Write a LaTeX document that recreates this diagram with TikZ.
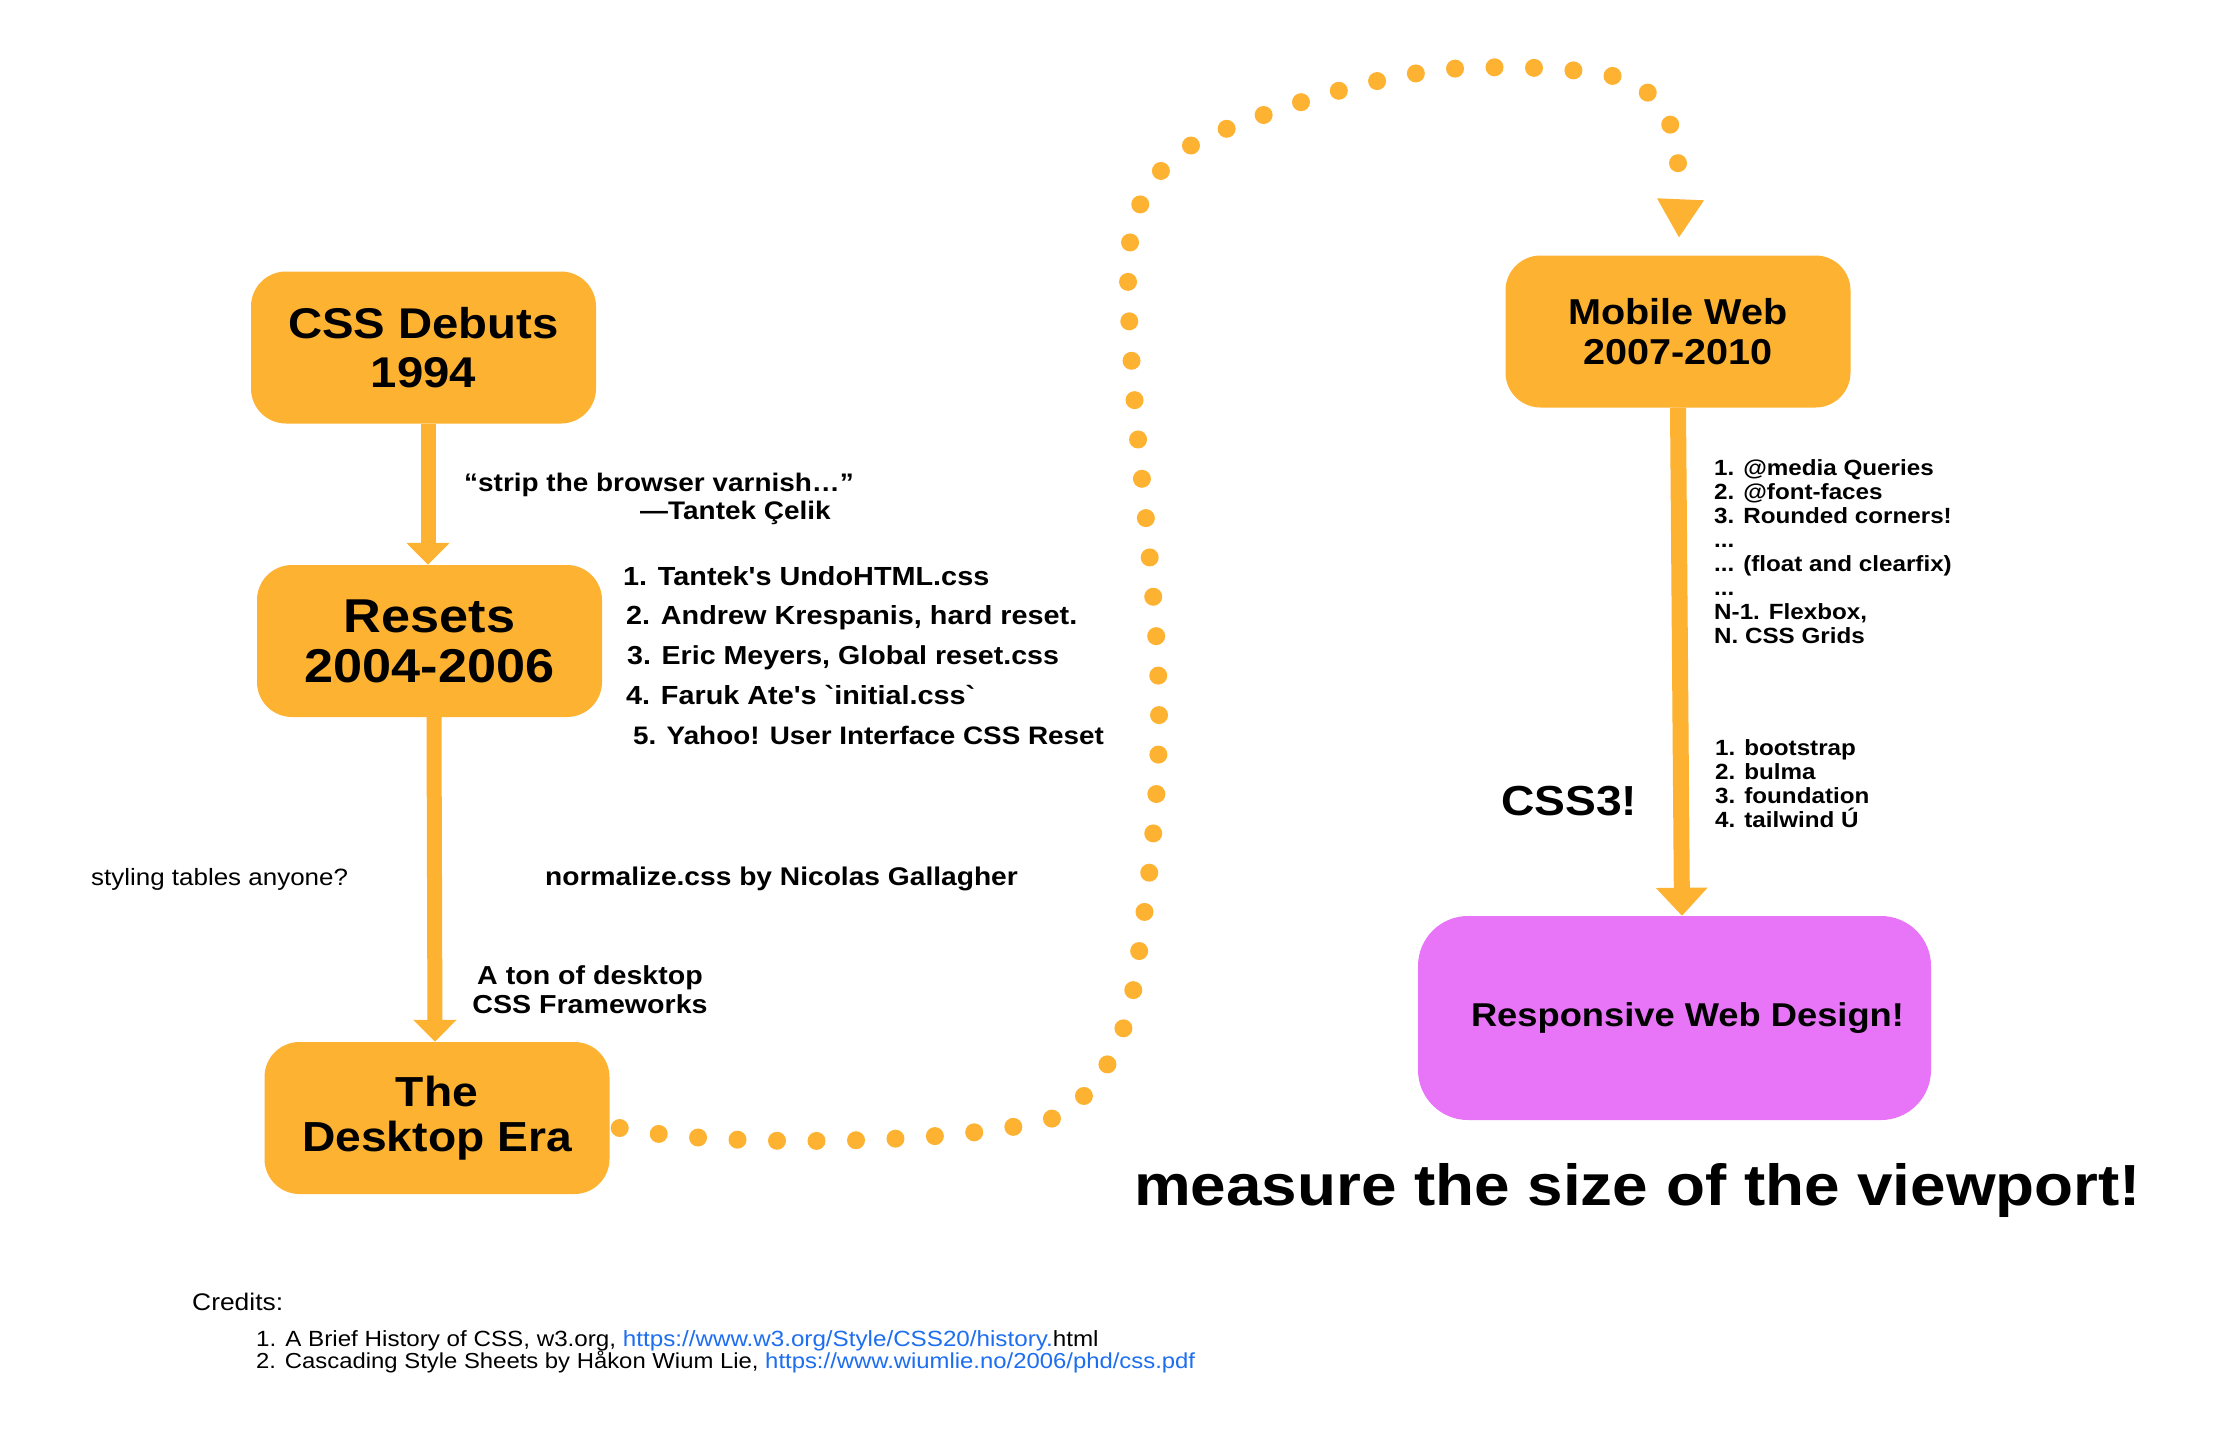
\documentclass[tikz,border=0pt]{standalone}
\usepackage{fontspec}
\setmainfont{Liberation Sans}[FakeStretch=1.1, Ligatures=TeXOff]
\usetikzlibrary{arrows.meta}
\definecolor{cssorange}{RGB}{253,178,49}
\definecolor{rwdpink}{RGB}{232,116,248}
\definecolor{linkblue}{RGB}{30,110,240}
\newcommand\setfs[2]{\fontsize{#1}{#2}\selectfont}
\begin{document}
\begin{tikzpicture}[x=1pt,y=-1pt,
  box/.style={fill=cssorange, rounded corners=35pt, minimum width=345pt, minimum height=152pt, align=center, inner sep=0pt},
  flow/.style={draw=cssorange, line width=15pt, -{Triangle[length=22pt,width=42pt]}},
  dotline/.style={draw=cssorange, line width=18pt, line cap=round, dash pattern=on 0pt off 39.5pt},
  txt/.style={anchor=base west, inner sep=0pt, font=\bfseries\setfs{26}{26}},
  ctxt/.style={anchor=base, inner sep=0pt, font=\bfseries\setfs{26}{26}},
  mlist/.style={anchor=base west, inner sep=0pt, font=\bfseries\setfs{22}{22}},
  cred/.style={anchor=base west, inner sep=0pt, font=\setfs{22}{22}}
]
\fill[white] (0,0) rectangle (2230,1440);
\useasboundingbox (0,0) rectangle (2230,1440);

% boxes
\node[box, font=\bfseries\setfs{43}{49}] (css) at (423.5,347.5) {\raisebox{-6pt}{CSS Debuts}\\\raisebox{-6pt}{1994}};
\node[box, font=\bfseries\setfs{47.5}{50}] (res) at (429.5,641) {Resets\\2004-2006};
\node[box, font=\bfseries\setfs{42}{45}] (desk) at (437,1118) {The\\Desktop Era};
\node[box, font=\bfseries\setfs{36}{40}] (mob) at (1678,331.5) {Mobile Web\\2007-2010};
\node[box, fill=rwdpink, rounded corners=50pt, minimum width=513pt, minimum height=204pt, font=\bfseries\setfs{33}{33}] (rwd) at (1674.5,1018) {\hspace*{26pt}Responsive Web Design!};

% solid arrows
\draw[flow] ([xshift=4.5pt]css.south) -- ([xshift=-1.5pt]res.north);
\draw[flow] ([xshift=4.5pt]res.south) -- ([xshift=-2pt]desk.north);
\draw[flow, line width=16pt, -{Triangle[length=28pt,width=50pt]}] (mob.south) -- ([xshift=7.5pt]rwd.north);

% dotted connector
\coordinate (dotend) at ([yshift=79pt]mob.north);
\draw[dotline] ([xshift=10pt,yshift=-10pt]desk.east)
  .. controls (720,1148) and (960,1145) .. (1054,1118)
  .. controls (1100,1095) and (1125,1040) .. (1134,986)
  .. controls (1147,900) and (1160,800) .. (1159,707)
  .. controls (1158,580) and (1130,420) .. (1128,280)
  .. controls (1126,200) and (1160,150) .. (1232,127)
  .. controls (1300,100) and (1390,72) .. (1464,68)
  .. controls (1520,66) and (1580,68) .. (1622,78)
  .. controls (1662,92) and (1680,130) .. (dotend);
\fill[cssorange] ([xshift=-21pt,yshift=57pt]mob.north) -- ([xshift=26pt,yshift=55pt]mob.north) -- ([xshift=1pt,yshift=18pt]mob.north) -- cycle;

% quote
\node[txt, font=\bfseries\setfs{25.4}{28}] (q1) at (464,491) {“strip the browser varnish…”};
\node[txt, font=\bfseries\setfs{25.4}{28}] (q2) at (640,519) {—Tantek Çelik};

% resets list
\node[txt, font=\bfseries\setfs{26.2}{26}] (r1) at (623,585) {1. Tantek's UndoHTML.css};
\node[txt, font=\bfseries\setfs{26.2}{26}] (r2) at (626,624) {2. Andrew Krespanis, hard reset.};
\node[txt] (r3) at (627,664) {3. Eric Meyers, Global reset.css};
\node[txt, font=\bfseries\setfs{26.2}{26}] (r4) at (626,704) {4. Faruk Ate's `initial.css`};
\node[txt, font=\bfseries\setfs{25.3}{26}] (r5) at (633,744) {5. Yahoo! User Interface CSS Reset};

% middle texts
\node[txt, font=\setfs{23.6}{24}] (tables) at (91,885) {styling tables anyone?};
\node[txt, font=\bfseries\setfs{25.6}{26}] (norm) at (545,885) {normalize.css by Nicolas Gallagher};
\node[ctxt] (ton1) at (590,984) {A ton of desktop};
\node[ctxt] (ton2) at (590,1013) {CSS Frameworks};

% mobile list
\node[mlist] (m1) at (1714,475) {1. @media Queries};
\node[mlist] (m2) at (1714,499) {2. @font-faces};
\node[mlist] (m3) at (1714,523) {3. Rounded corners!};
\node[mlist] (m4) at (1714,547) {...};
\node[mlist] (m5) at (1714,571) {... (float and clearfix)};
\node[mlist] (m6) at (1714,595) {...};
\node[mlist] (m7) at (1714,619) {N-1. Flexbox,};
\node[mlist] (m8) at (1714,643) {N. CSS Grids};

\node[mlist] (f1) at (1715,755) {1. bootstrap};
\node[mlist] (f2) at (1715,779) {2. bulma};
\node[mlist] (f3) at (1715,803) {3. foundation};
\node[mlist] (f4) at (1715,827) {4. tailwind Ú};

\node[txt, font=\bfseries\setfs{42}{42}] (css3) at (1501,815) {CSS3!};
\node[txt, font=\bfseries\setfs{58}{58}] (measure) at (1134,1205) {measure the size of the viewport!};

% credits
\node[cred, font=\setfs{24}{24}] (credits) at (192,1310) {Credits:};
\node[cred] (c1) at (256,1346) {1. A Brief History of CSS, w3.org, \textcolor{linkblue}{https://www.w3.org/Style/CSS20/history.}html};
\node[cred, font=\setfs{21.7}{22}] (c2) at (256,1368) {2. Cascading Style Sheets by Håkon Wium Lie, \textcolor{linkblue}{https://www.wiumlie.no/2006/phd/css.pdf}};
\end{tikzpicture}
\end{document}
